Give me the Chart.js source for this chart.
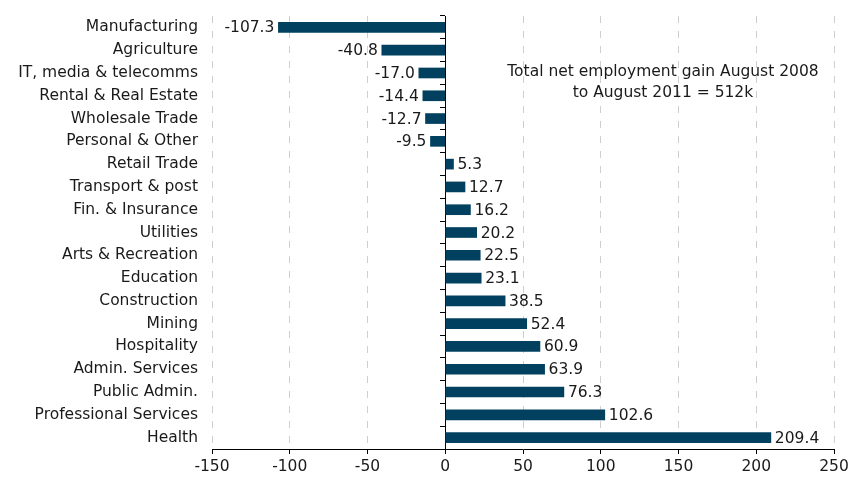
<!DOCTYPE html>
<html>
<head>
<meta charset="utf-8">
<script src="https://cdn.jsdelivr.net/npm/chart.js@4"></script>
<style>
  html, body { margin: 0; padding: 0; background: #ffffff; }
  #wrap { width: 849px; height: 479px; position: relative; }
</style>
</head>
<body>
<div id="wrap"><canvas id="c" width="849" height="479"></canvas></div>
<script>
const categories = [
  'Manufacturing', 'Agriculture', 'IT, media & telecomms', 'Rental & Real Estate',
  'Wholesale Trade', 'Personal & Other', 'Retail Trade', 'Transport & post',
  'Fin. & Insurance', 'Utilities', 'Arts & Recreation', 'Education',
  'Construction', 'Mining', 'Hospitality', 'Admin. Services', 'Public Admin.',
  'Professional Services', 'Health'
];
const values = [
  -107.3, -40.8, -17.0, -14.4, -12.7, -9.5, 5.3, 12.7, 16.2, 20.2, 22.5, 23.1,
  38.5, 52.4, 60.9, 63.9, 76.3, 102.6, 209.4
];
const xTicks = [-150, -100, -50, 0, 50, 100, 150, 200, 250];
const noteLines = ['Total net employment gain August 2008', 'to August 2011 = 512k'];

const FONT = "'DejaVu Sans', Verdana, sans-serif";
const FSIZE = 15.5;
const TEXT = '#1a1a1a';
const BAR = '#02405f';

const valueLabels = {
  id: 'valueLabels',
  afterDatasetsDraw(chart) {
    const ctx = chart.ctx;
    const meta = chart.getDatasetMeta(0);
    ctx.save();
    ctx.font = FSIZE + 'px ' + FONT;
    ctx.fillStyle = TEXT;
    ctx.textBaseline = 'middle';
    meta.data.forEach((bar, i) => {
      const v = values[i];
      const txt = v.toFixed(1);
      if (v >= 0) {
        ctx.textAlign = 'left';
        ctx.fillText(txt, bar.x + 4, bar.y + 1);
      } else {
        ctx.textAlign = 'right';
        ctx.fillText(txt, bar.x - 4, bar.y + 1);
      }
    });
    const xs = chart.scales.x, ys = chart.scales.y;
    const cx = xs.getPixelForValue(140);
    const y0 = ys.getPixelForValue(2) - 1;
    ctx.textAlign = 'center';
    noteLines.forEach((l, k) => ctx.fillText(l, cx, y0 + k * 21));
    ctx.restore();
  }
};

new Chart(document.getElementById('c'), {
  type: 'bar',
  data: {
    labels: categories,
    datasets: [{
      data: values,
      backgroundColor: BAR,
      borderWidth: 0,
      barThickness: 10
    }]
  },
  options: {
    indexAxis: 'y',
    responsive: false,
    animation: false,
    devicePixelRatio: 1,
    layout: { padding: { top: 16, right: 15, left: 0, bottom: 0 } },
    plugins: { legend: { display: false }, tooltip: { enabled: false } },
    scales: {
      x: {
        type: 'linear',
        min: -150, max: 250,
        afterBuildTicks: (s) => { s.ticks = xTicks.map(v => ({ value: v })); },
        afterFit: (s) => { s.height = 30; s.paddingLeft = 0; s.paddingRight = 0; },
        grid: {
          color: (c) => c.tick && c.tick.value === 0 ? 'rgba(0,0,0,0)' : '#cfcfcf',
          lineWidth: 1,
          tickColor: '#000000',
          tickLength: 5,
          drawTicks: true
        },
        border: { display: true, color: '#000000', width: 1, dash: [7, 8] },
        ticks: {
          font: { family: FONT, size: FSIZE },
          color: TEXT,
          padding: 4,
          maxRotation: 0,
          autoSkip: false
        }
      },
      y: {
        type: 'category',
        position: 'left',
        afterFit: (s) => { s.width = 212; s.paddingTop = 0; s.paddingBottom = 0; },
        grid: { display: false, drawTicks: false },
        border: { display: false },
        ticks: {
          font: { family: FONT, size: FSIZE },
          color: TEXT,
          padding: 14,
          autoSkip: false
        }
      },
      y2: {
        type: 'category',
        axis: 'y',
        position: { x: 0 },
        offset: true,
        afterFit: (s) => { s.paddingTop = 0; s.paddingBottom = 0; },
        grid: {
          offset: true,
          drawOnChartArea: false,
          drawTicks: true,
          tickLength: 5,
          tickColor: '#000000'
        },
        border: { display: true, color: '#000000', width: 1 },
        ticks: { display: false }
      }
    }
  },
  plugins: [valueLabels]
});
</script>
</body>
</html>
